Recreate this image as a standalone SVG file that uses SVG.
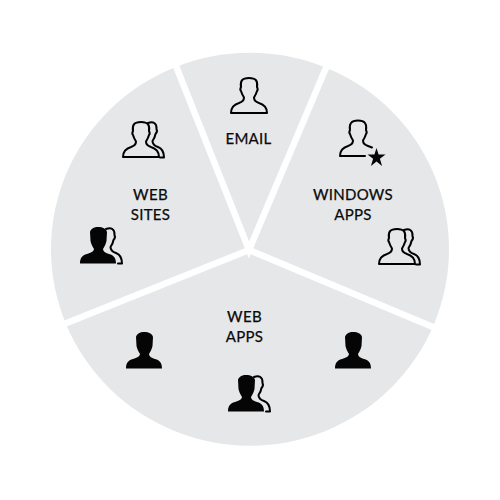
<svg xmlns="http://www.w3.org/2000/svg" width="500" height="500" viewBox="0 0 500 500">
<style>
.line{fill:none;stroke:#000;stroke-width:2;stroke-linejoin:round;stroke-linecap:round}
.solid{fill:#050505;stroke:none}
.label{font-family:"Lato","Open Sans",sans-serif;font-size:15px;fill:#0a0a0a;stroke:#0a0a0a;stroke-width:.25;text-anchor:middle;letter-spacing:.3px}
.sep{stroke:#fff;stroke-width:6.500;fill:none}
</style>
<defs>
<path id="outline" class="line" d="M1 36C1 30 4 27.500 9 26C12 25 14 23.500 14 20.500C12.500 18 11.500 16 11 14C10 13 10.500 11 11 10C10 4 12 1 19 1C26 1 28 4 27 10C27.500 11 28 13 27 14C26.500 16 25.500 18 24 20.500C24 23.500 26 25 29 26C34 27.500 37 30 37 36Z"/>
<path id="back" class="line" d="M26 2C31 0 35 2 34.500 8C35.500 10 34.500 12 33.500 13C33 16 32 18 30.500 20C30.500 23 33 25 36 26C40 27.500 42 31 42 36.500L38 36.500"/>
<path id="solid" class="solid" d="M0 36.500C0 31 2 28.500 7 27C11 25.500 13.500 25 14 22C12 19 11 16 10.500 14L10 5C11 1.500 14 0 18 0C23 0 26 1.500 27 5L26.500 14C26 16 25 19 23 22C23.500 25 25 25.500 29 27C34 28.500 36 31 36 36.500Z"/>
<polygon id="star" class="solid" points="9,0 11.100,6.600 18,6.600 12.400,10.800 14.600,18 9,13.600 3.400,18 5.600,10.800 0,6.600 6.900,6.600"/>
</defs>
<g id="wheel">
<ellipse cx="250" cy="249.200" rx="199" ry="196.500" fill="#e6e7e8"/>
</g>
<g id="connectors">
<path class="sep" d="M172 56L249 250L331 56M249 250L48 330.500M249 250L452 335"/>
</g>
<g id="email">
<use href="#outline" x="230" y="77"/>
<text class="label" x="248.500" y="144">EMAIL</text>
</g>
<g id="windows-apps">
<path class="line" d="M340 156C340 150 343 147.500 348 146C351 145 353 143.500 353 140.500C351.500 138 350.500 136 350 134C349 133 349.500 131 350 130C349 124 351 120.500 358 120.500C365 120.500 367 124 366 130C366.500 131 367 133 366 134C365.500 136 364.500 138 363 140.500C363 143.500 365 145 368 146L372 147.500M340 156H365"/>
<use href="#star" x="367.500" y="148"/>
<text class="label" x="353" y="200">WINDOWS</text>
<text class="label" x="353" y="219.500">APPS</text>
<use href="#outline" x="378" y="228"/>
<use href="#back" x="378" y="228"/>
</g>
<g id="web-sites">
<use href="#outline" x="122" y="121"/>
<use href="#back" x="122" y="121"/>
<text class="label" x="150.500" y="200">WEB</text>
<text class="label" x="150.500" y="219.500">SITES</text>
<use href="#solid" x="80" y="227"/>
<use href="#back" x="80" y="227"/>
</g>
<g id="web-apps">
<text class="label" x="244.500" y="322">WEB</text>
<text class="label" x="244.500" y="341.500">APPS</text>
<use href="#solid" x="126" y="332"/>
<use href="#solid" x="335" y="332"/>
<use href="#solid" x="228" y="375"/>
<use href="#back" x="228" y="375"/>
</g>
</svg>
